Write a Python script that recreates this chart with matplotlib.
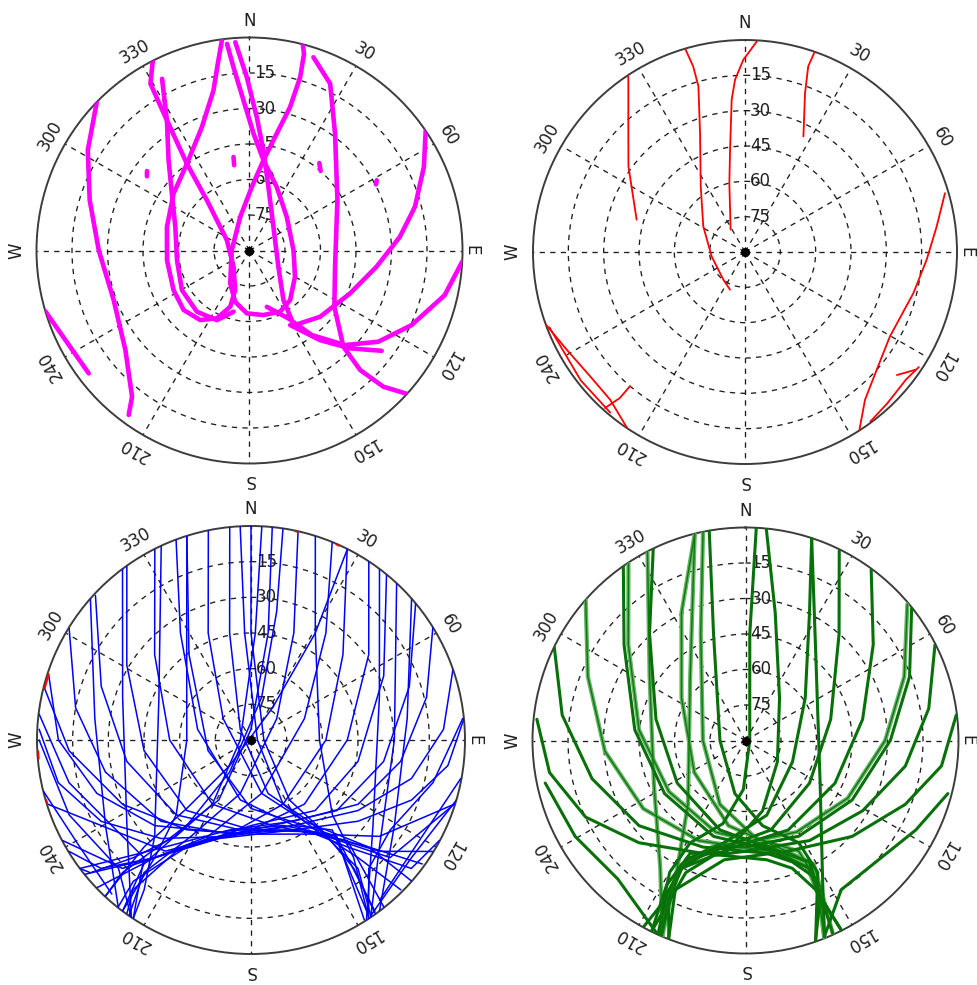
import numpy as np
import matplotlib
matplotlib.use('Agg')
import matplotlib.pyplot as plt
from matplotlib import transforms

plt.rcParams['font.family'] = ['DejaVu Sans']

# ---------------- axis labels ----------------
dir_angles = [0, 30, 60, 90, 120, 150, 180, 210, 240, 270, 300, 330]
dir_labels = ['N', '30', '60', 'E', '120', '150', 'S', '210', '240', 'W', '300', '330']
ring_els = [15, 30, 45, 60, 75]
ring_labels = ['15', '30', '45', '60', '75']

# ---------------- panel 1 (magenta) tracks: (azimuth deg, elevation deg) ----------------
m1 = [(314.2, 0), (301.8, 9.6), (287.5, 19.2), (270.1, 26.3), (249.9, 28.9), (231.3, 22.8), (218.8, 10.8), (216.3, 3.8)]
m2 = [(253.4, 0), (232.6, 4.5)]
m3 = [(333, 0), (329.3, 8), (327.8, 23.3), (324.2, 44.8), (319.7, 62.2), (294.5, 79.5), (224.4, 80.4), (199.9, 72.2),
      (198.9, 64.9), (205.7, 58.2), (215.3, 54), (227.9, 52.5), (242.4, 53.8), (263.3, 54.9), (286, 53.7), (306.9, 49.9),
      (324.2, 44.8), (338.9, 34.1), (347.3, 20.7), (350.7, 8.6), (352.6, 0)]
m4 = [(333, 8.6), (327.6, 24.9), (318.1, 38.8), (306.3, 49.3), (287.7, 57.1), (262.4, 59.1), (239.6, 56.9),
      (220.7, 55.9), (205.1, 57.5), (194.6, 63.3)]
m5 = [(353.8, 2.2), (355, 12.2), (357.7, 26.5), (2, 40.6), (8.8, 51.4), (23.2, 60.8), (48, 68.8), (89.6, 71.4),
      (120, 67.8), (140.7, 62.9), (153.4, 61.1), (167.8, 62.1), (182.4, 63.4), (195.6, 67.5), (210.4, 73.9),
      (271, 82.5), (344.5, 75.3), (2.1, 63.1), (8.8, 51.4), (13.1, 39.3), (15.8, 27), (16.3, 13.7), (15.5, 3.8), (14.5, 0)]
m6 = [(356.1, 1.8), (359.1, 16.7), (3.1, 33.5), (7.9, 47.3), (16.6, 62), (45.4, 75.8), (119.4, 76), (145.6, 64.6), (148.7, 55.6)]
m7 = [(18.3, 4), (25.8, 11.7), (36.2, 28.8), (60.2, 47.2), (100.8, 53.2), (123.5, 47), (135.7, 33.2), (137.2, 21.2),
      (135.5, 9.3), (132.3, 0)]
m8 = [(55.8, 0), (64.4, 8.3), (75.2, 17.7), (84.8, 26.2), (97.3, 35.9), (113.1, 43.8), (133.2, 49.1), (148.5, 53.1)]
m9 = [(93, 0), (102.9, 5.4), (114.7, 14.6), (125.3, 23.3), (134.7, 33.2), (143.6, 45.6), (150.2, 56.9), (162.9, 65.1)]
m10 = [(151.4, 54.1), (141.8, 41.8), (134.2, 30.7), (127.2, 19.9)]
m_geo1 = [(307.8, 35.2), (305.9, 36.5)]
m_geo2 = [(350.3, 49.9), (349.8, 53.4)]
m_geo3 = [(38.6, 42.7), (41.8, 44.9)]
m_geo4 = [(61.1, 28.6), (62.4, 29.7)]
magenta_tracks = [m1, m2, m3, m4, m5, m6, m7, m8, m9, m10, m_geo1, m_geo2, m_geo3, m_geo4]

# ---------------- panel 2 (red) tracks ----------------
r1 = [(326.4, 0.5), (315.6, 19.2), (306.3, 28.6), (286.6, 42)]
r2 = [(343.6, 0), (344.4, 8.2), (344.3, 16.9), (339.3, 36), (326, 56.4), (301.6, 69.2), (262.6, 75.7), (218.1, 75.1), (201.7, 72.8)]
r3 = [(3.2, 0.5), (359.5, 8.4), (356.7, 16.7), (355, 25.1), (351.7, 46.1), (347.2, 60), (327.3, 78.7)]
r4 = [(19.2, 0), (18.8, 6.7), (20.7, 17.9), (26.8, 35)]
r5 = [(73.6, 1.5), (82.4, 7.9), (92.4, 12.8), (103.7, 16.4), (120.2, 18.8), (131.8, 15), (140.9, 9.2), (147.2, 0.3)]
r6 = [(143.5, 0.5), (136.8, 1.8), (128.4, 2.8), (123.5, 1.5)]
r7 = [(129, 7), (124.6, 2)]
r8 = [(250, 0), (241.3, 3.7), (231.3, 5.7), (222.4, 5.1), (213.7, 0)]
r9 = [(249, 1), (232, 1.5), (220, 1)]
r10 = [(220.6, 14.9), (220.6, 8.4), (221.9, 1)]
red_tracks = [r1, r2, r3, r4, r5, r6, r7, r8, r9, r10]

# ---------------- panel 3 (blue) tracks ----------------
b1 = [(2.9, 0.1), (2.3, 45), (270, 85.5), (211, 58.5), (217.9, 38.7), (225, 20), (230.4, 2.4), (233.1, 0)]
b2 = [(5.7, 0), (9.1, 44.4), (0, 85.5), (208.2, 61.4), (219.6, 36.3), (224.1, 12.3), (223, 0.2)]
b3 = [(8.6, 0), (11.3, 34.9), (14, 71.4), (213.7, 73.8), (216.9, 45), (220.8, 21.1), (216.9, 0)]
b4 = [(12.7, 0), (21.8, 41.5), (50.2, 75.9), (191.3, 67.1), (211.9, 42.3), (218.9, 18.3), (214.8, 0.1)]
b5 = [(22.3, 0), (35, 35.1), (68.2, 65.8), (168.7, 67.1), (204, 45.7), (219.3, 26), (229.4, 7), (238.5, 0.3)]
b6 = [(33.4, 0), (54, 28.8), (90, 49.5), (140.2, 54.9), (180, 52.2), (211, 37.5), (225, 13.6), (241.9, 0.2)]
b7 = [(39.3, 0), (64.2, 28), (101.3, 44.1), (137.7, 49.9), (180, 54), (211, 37.5), (219.8, 12.7), (218.5, 0.3)]
b8 = [(50.3, 0), (71.3, 19.7), (99.2, 33.5), (129.5, 43.3), (166, 52.9), (203.5, 44.9), (219.3, 26), (226.2, 0.3)]
b9 = [(58.2, 0), (76.3, 14), (98.1, 26.4), (121, 37.5), (152.2, 51.4), (193.4, 51.1), (218.7, 32.4), (233.1, 0)]
b10 = [(70.7, 0), (86.8, 8.9), (103.5, 20.6), (123.4, 36.1), (153.4, 49.8), (192.8, 49.4), (217.6, 31), (252.5, 0.3)]
b11 = [(84.3, 0), (97.4, 6.5), (110.5, 17.9), (127.2, 33.5), (154.5, 48.1), (198.1, 46.4), (219.3, 26), (231.1, 0)]
b12 = [(26.8, 0.3), (47.1, 37.2), (90, 58.5), (153.4, 59.8), (192.8, 49.4), (213.9, 33.6), (218.2, 9.9), (215.6, 0.4)]
b13 = [(357.1, 0.1), (356.6, 45), (90, 87.3), (153.4, 59.8), (144.5, 43.6), (137.7, 23.1), (135, 0.9)]
b14 = [(354.3, 0), (348.7, 44.1), (315, 83.6), (162.3, 66.4), (143.1, 45), (140.2, 19.7), (145.7, 0.6)]
b15 = [(348.5, 0), (338.2, 41.5), (307.6, 75.2), (168.7, 67.1), (146.7, 49.1), (132.3, 23.1), (125.9, 1.1)]
b16 = [(339.5, 0), (326.6, 36.1), (281.3, 67.1), (190.1, 64.4), (153.4, 49.8), (138, 29.5), (128.7, 3.6), (118.1, 0.2)]
b17 = [(333.2, 0.3), (311.6, 35.8), (270, 55.8), (211, 58.5), (166, 52.9), (142.1, 38.7), (130.2, 13.4), (107.5, 0.3)]
b18 = [(324.4, 0.3), (301.1, 29), (264.3, 44.8), (222.3, 49.9), (180, 52.2), (145.1, 42.8), (130.9, 18.5), (121.5, 0.3)]
b19 = [(312.9, 0.7), (289.7, 23.1), (260.2, 37), (225, 45.5), (186.8, 51.9), (149.2, 46), (132.3, 23.1), (131.3, 0.1)]
b20 = [(301.5, 0.3), (280.4, 15), (257.6, 27.3), (227.9, 39), (192.8, 49.4), (154.5, 48.1), (136.2, 31.4), (141.5, 0.3)]
b21 = [(287.6, 0.8), (270, 9), (250.9, 21.4), (228.4, 35.8), (199.2, 49), (159.4, 51.6), (138.4, 35.8), (144.1, 1.1)]
b22 = [(272.9, 0.8), (257.5, 7), (241.5, 18.3), (222.4, 33.9), (192.5, 48.5), (153.4, 49.8), (137.9, 39), (146.2, 1.1)]
b23 = [(342.5, 0.3), (324.1, 45.5), (256, 71.4), (180, 61.2), (148, 47.5), (138.4, 35.8), (147.8, 0.6)]
b24 = [(323.1, 0), (288.4, 33.1), (235.4, 26.6), (214, 0)]
b25 = [(311.3, 0.1), (277.8, 23.7), (239.5, 19), (218.5, 0.3)]
b26 = [(335.2, 0), (294.9, 47.3), (225, 32.7), (215.5, 12.6), (213.4, 0)]
b27 = [(36.9, 0), (71.6, 33.1), (125.1, 27.3), (147.3, 0.1)]
b28 = [(48.7, 0.1), (82.2, 23.7), (120.8, 19.8), (143.1, 0)]
b29 = [(43, 0.2), (90, 29.7), (129.8, 19.7), (146, 0)]
b30 = [(256.1, 0.1), (238, 5.1), (222.1, 2.7)]
b31 = [(270, 0.9), (247.6, 7.3), (225.9, 12.4), (214, 0)]
b32 = [(100.4, 0.3), (119.4, 7.4), (141.3, 3.6)]
b33 = [(106.3, 0), (126.3, 6.3), (145.7, 0.6)]
b34 = [(0, 0), (0, 45), (90, 84.6), (147.3, 60), (141.8, 41.9), (141.3, 20.9), (144.4, 0.3)]
b35 = [(342.5, 0.3), (329, 37.5), (270, 63), (225, 45.5), (219.3, 26), (216.9, 0)]
b36 = [(17.5, 0), (31, 37.5), (90, 61.2), (132.6, 43.5), (138.9, 24.3), (146.6, 0)]
b37 = [(276.9, 0.3), (256.8, 11.4), (238.4, 21.3), (222.3, 23.1), (213.5, 0.4)]
b38 = [(84.2, 0.5), (103.2, 11.4), (122.9, 20.3), (137.5, 16.7), (146.5, 0.4)]
b39 = [(26.8, 0.3), (31, 37.5), (33.7, 73.8), (219.8, 75.9), (223.2, 50.5), (225, 26.4), (223, 0.2)]
b40 = [(284.5, 0), (266.6, 13.4), (243.4, 29.6), (215.5, 43.6), (180, 50.4), (145.7, 42.1), (126.9, 22.5), (107.5, 0.3)]
blue_tracks = [b1, b2, b3, b4, b5, b6, b7, b8, b9, b10, b11, b12, b13, b14, b15, b16, b17, b18, b19, b20,
               b21, b22, b23, b24, b25, b26, b27, b28, b29, b30, b31, b32, b33, b34, b35, b36, b37, b38, b39, b40]
blue_red_marks = [[(267, 0.3), (265, 0.3)], [(288, 0.5), (284, 0.5)], [(253.7, 0.2), (252.5, 0.2)],
                  [(12, 0.2), (12.8, 0.2)], [(23.6, 0.2), (24.4, 0.2)]]

# ---------------- panel 4 (green) tracks ----------------
g1 = [(2.9, 0), (2.3, 45), (90, 88.2), (182.5, 69.3), (195.2, 53.6), (208.4, 40.9), (209.9, 25.7), (206.6, 11.5), (203.6, 0.1)]
g2 = [(5.6, 0), (13.1, 34.6), (38.7, 67), (123.7, 73.8), (166.4, 59.4), (189.9, 42), (206.1, 36.9), (208.6, 20.3), (206.2, 0.3)]
g3 = [(18.1, 0), (26.6, 29.6), (54.5, 59), (114.4, 68.2), (164.1, 57.2), (191.8, 45.9), (206.6, 33.7), (207.2, 17.1), (204.3, 0.2)]
g4 = [(26.3, 0.6), (41.3, 30.1), (76, 52.9), (123.7, 57.5), (164.1, 50.7), (191.3, 44.1), (207.3, 31.2), (206.6, 17.5), (201.2, 0.3)]
g5 = [(36.4, 0.5), (53.1, 22.5), (79.7, 39.7), (115.5, 48.1), (154.5, 48.1), (185.7, 44.8), (206.6, 29.6), (206.6, 15.5), (208.7, 0.2)]
g6 = [(51.5, 0.3), (68.7, 15.6), (90, 28.8), (119.2, 38.4), (150.9, 43.7), (180, 45), (195.6, 43.3), (206.6, 29.6), (205.9, 20), (203.6, 0.1)]
g7 = [(63.2, 0.3), (80.1, 11.4), (99.1, 21.6), (121, 32.3), (147.4, 39.8), (180, 43.2), (195.5, 39.6), (204.3, 28.8), (205.3, 16.3), (206.2, 0.3)]
g8 = [(83.1, 0.3), (97.4, 6.5), (111.8, 17.3), (132, 29.4), (159, 39.9), (190.1, 38.8), (205.2, 20.3), (201.2, 0.3)]
g9 = [(49.9, 0.6), (68.1, 17.7), (90, 31), (119.4, 40.4), (150.8, 45.7), (180, 46.8), (195.9, 44.1), (206.6, 31.7), (206.6, 17.5), (203.6, 0.1)]
g10 = [(350.2, 0), (343.3, 43), (270, 79.2), (191.3, 67.1), (168.7, 53.3), (152.5, 41.3), (151.3, 26.4), (160.7, 0.4)]
g11 = [(348.5, 0), (337.2, 41.2), (270, 72), (201.8, 60.9), (173.8, 48.4), (154.3, 38.1), (152.8, 21.2), (158.2, 0.4)]
g12 = [(346.2, 0.1), (333.4, 29.6), (303.7, 57.5), (238, 64.5), (191.3, 53.3), (163.3, 43), (151.1, 30.4), (153.4, 17.5), (155.7, 0.2)]
g13 = [(334.3, 0.1), (318, 29.4), (283.4, 51.1), (238, 56), (195.9, 50.7), (168.7, 44.1), (152.2, 32), (154.4, 17.1), (153.2, 0.3)]
g14 = [(325, 0), (308.3, 24.6), (275.5, 43), (236.7, 49.1), (198.4, 47.3), (168.9, 43.2), (153.4, 29.6), (154.7, 16.3), (160.7, 0.4)]
g15 = [(311.3, 0.1), (292.1, 18.1), (265.7, 30.4), (236.3, 38.1), (205.1, 43.3), (174.4, 43.9), (162.2, 39.9), (153.4, 29.6), (154.1, 15.9), (158.2, 0.4)]
g16 = [(296.1, 0), (277.9, 11.8), (256, 23.2), (231.3, 32.4), (201.8, 41.5), (169.3, 41.5), (158.9, 35), (153.4, 25.6), (154.6, 12.3), (155.7, 0.2)]
g17 = [(275.8, 1.4), (260.7, 6.1), (244.4, 15.1), (226.2, 27.6), (200.7, 39), (169.9, 38.8), (159.9, 32.5), (154.8, 20.3), (153.2, 0.3)]
g18 = [(332.5, 0.3), (303.7, 41.3), (245.1, 47.3), (213.7, 25.1), (203, 0.1)]
g19 = [(258, 3.5), (240.6, 7.4), (222.7, 10.4), (205, 0.6)]
g20 = [(104.7, 1.6), (117.7, 8.7), (134, 14.9), (147.3, 15.1), (158.1, 0.7)]
g21 = [(18.1, 0), (39.5, 43.3), (119.7, 53.7), (149, 27), (158.1, 0.7)]
g22 = [(346.2, 0.1), (319.1, 54.3), (222, 53.7), (208.1, 28.8), (203, 0.1)]
g23 = [(326.5, 0.4), (309.3, 26), (275.7, 44.8), (236.3, 51.1), (198, 49.3), (168.5, 45), (153.8, 32.9), (154.7, 18.3), (158.2, 0.4)]
green_dark = [g1, g2, g3, g4, g5, g6, g7, g8, g10, g13, g14, g16, g17, g19, g20, g21]
green_light = [g9, g11, g12, g15, g18, g22, g23]

# ---------------- drawing ----------------
W, H = 977, 985
fig = plt.figure(figsize=(W / 100, H / 100), dpi=100)
fig.patch.set_facecolor('white')

# label distance from the centre, in axes fractions (0.5 = rim)
label_dist = {'E': 0.522, 'W': 0.548}


def make_ax(cx, cy, R):
    ax = fig.add_axes([(cx - R) / W, 1 - (cy + R) / H, 2 * R / W, 2 * R / H], projection='polar')
    ax.set_theta_zero_location('N')
    ax.set_theta_direction(-1)
    ax.set_ylim(90, 0)
    ax.set_thetagrids(dir_angles, labels=[''] * len(dir_angles))
    ax.set_rgrids(ring_els, labels=[''] * len(ring_els))
    ax.grid(True, color='#1e1e1e', linestyle=(0, (4, 4)), linewidth=0.95)
    ax.spines['polar'].set_color('#3c3c3c')
    ax.spines['polar'].set_linewidth(1.4)
    ax.tick_params(length=0)
    for a, lab in zip(dir_angles, dir_labels):
        t = np.deg2rad(a)
        d = label_dist.get(lab, 0.539)
        ax.text(0.5 + d * np.sin(t), 0.5 + d * np.cos(t), lab, transform=ax.transAxes,
                rotation=-a, rotation_mode='anchor', ha='center', va='center',
                fontsize=12, color='#202020')
    off = transforms.offset_copy(ax.transData, fig=fig, x=5, y=0, units='dots')
    for e, lab in zip(ring_els, ring_labels):
        ax.text(0, e, lab, transform=off, ha='left', va='center', fontsize=12,
                color='#202020', zorder=1.5)
    ax.plot([0], [90], 'o', color='black', ms=5.5, zorder=6)
    return ax


def draw(ax, tracks, color, lw, z=3, alpha=1.0):
    for tr in tracks:
        az = np.deg2rad([p[0] for p in tr])
        el = [p[1] for p in tr]
        ax.plot(az, el, color=color, lw=lw, solid_capstyle='round', solid_joinstyle='round',
                zorder=z, alpha=alpha)


ax1 = make_ax(249.5, 250.5, 213)
draw(ax1, magenta_tracks, '#ff00ff', 3.3)

ax2 = make_ax(745, 252, 212)
draw(ax2, red_tracks, '#ff0000', 1.3)

ax3 = make_ax(251, 740, 214)
draw(ax3, blue_tracks, '#0000ff', 1.1)
draw(ax3, blue_red_marks, '#ff0000', 1.6, z=4)

ax4 = make_ax(745.5, 740.5, 213)
draw(ax4, green_light, '#66b266', 3.0)
draw(ax4, green_light, '#0b7a0b', 1.0, z=3.5)
draw(ax4, green_dark, '#087008', 2.2)

fig.savefig('out.png', dpi=100, facecolor='white')
